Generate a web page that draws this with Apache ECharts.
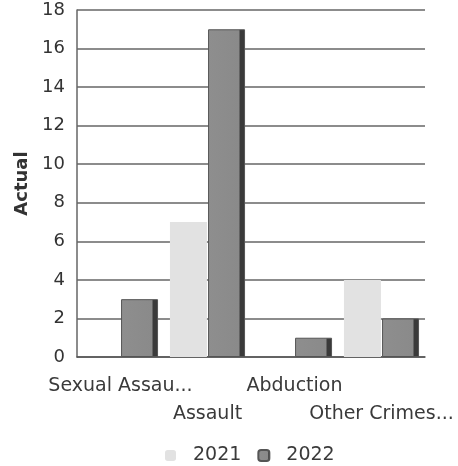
<!DOCTYPE html>
<html>
<head>
<meta charset="utf-8">
<script src="https://cdn.jsdelivr.net/npm/echarts@6/dist/echarts.min.js"></script>
<style>
  html, body { margin: 0; padding: 0; background: #fff; }
  #chart { width: 458px; height: 466px; }
</style>
</head>
<body>
<div id="chart"></div>
<script>
const categories = ['Sexual Assau...', 'Assault', 'Abduction', 'Other Crimes...']
const values2021 = [0, 7, 0, 4]
const values2022 = [3, 17, 1, 2]

const font = 'DejaVu Sans'

const chart = echarts.init(document.getElementById('chart'))

chart.setOption({
  animation: false,
  textStyle: { fontFamily: font, color: '#333' },
  grid: { left: 77, right: 33, top: 10, bottom: 109 },
  legend: {
    bottom: -4,
    left: 160,
    itemWidth: 11,
    itemHeight: 11,
    itemGap: 16,
    textStyle: { fontFamily: font, fontSize: 19, color: '#3a3a3a', padding: [0, 0, 0, 12] },
    data: ['2021', '2022']
  },
  xAxis: {
    type: 'category',
    data: categories,
    axisLine: { lineStyle: { color: '#555', width: 1.5 } },
    axisTick: { show: false },
    axisLabel: {
      interval: 0,
      margin: 15,
      fontSize: 19,
      color: '#3a3a3a',
      lineHeight: 28,
      formatter: (v, i) => (i % 2 === 1 ? '\n' + v : v)
    }
  },
  yAxis: {
    type: 'value',
    min: 0,
    max: 18,
    interval: 2,
    name: 'Actual',
    nameLocation: 'middle',
    nameGap: 42,
    nameTextStyle: { fontFamily: font, fontSize: 18, fontWeight: 'bold', color: '#333' },
    axisLine: { show: true, lineStyle: { color: '#666', width: 1.5 } },
    axisTick: { show: false },
    axisLabel: { fontSize: 18, color: '#333', margin: 12 },
    splitLine: { lineStyle: { color: '#666', width: 1.5 } }
  },
  series: [
    {
      name: '2021',
      type: 'bar',
      data: values2021,
      barWidth: 37,
      barGap: '3%',
      itemStyle: { color: '#e2e2e2' }
    },
    {
      name: '2022',
      type: 'bar',
      data: values2022,
      barWidth: 37,
      itemStyle: {
        color: new echarts.graphic.LinearGradient(0, 0, 1, 0, [
          { offset: 0, color: '#8e8e8e' },
          { offset: 0.84, color: '#8a8a8a' },
          { offset: 0.86, color: '#3a3a3a' },
          { offset: 1, color: '#3a3a3a' }
        ]),
        borderColor: '#555',
        borderWidth: 1
      }
    }
  ]
})
</script>
</body>
</html>
